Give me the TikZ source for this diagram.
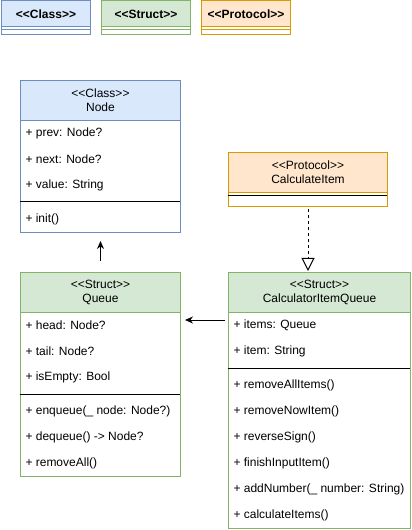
\documentclass[tikz,border=0pt]{standalone}
\usepackage{fontspec}
\setmainfont{Liberation Sans}
\usetikzlibrary{arrows.meta}
\definecolor{blueF}{HTML}{DAE8FC}
\definecolor{blueS}{HTML}{6C8EBF}
\definecolor{greenF}{HTML}{D5E8D4}
\definecolor{greenS}{HTML}{82B366}
\definecolor{orangeF}{HTML}{FFE6CC}
\definecolor{orangeS}{HTML}{D79B00}
\newcommand\Lq{<{}<}
\newcommand\Rq{>{}>}
\begin{document}
\begin{tikzpicture}[x=0.75pt,y=-0.75pt,line width=0.75pt,
  txt/.style={font=\fontsize{9pt}{10.5pt}\selectfont},
  box/.style={anchor=north west,inner sep=0pt,fill=white},
  hdr/.style={txt,anchor=north west,inner sep=0pt,align=center},
  leg/.style={anchor=north west,inner sep=0pt,align=center,font=\fontsize{9pt}{10.5pt}\selectfont\bfseries,minimum width=66.75pt,minimum height=19.5pt},
  row/.style={txt,anchor=west,inner sep=0pt},
  sep/.style={draw=black},
  arr/.style={-{Stealth[length=6pt,width=5.25pt]}},
  impl/.style={dash pattern=on 2.25pt off 2.25pt,-{Triangle[open,length=9.75pt,width=9.75pt,fill=white]}}]
\useasboundingbox (0,0) rectangle (411,530);

% legend
\node[box,draw=blueS,minimum width=66.75pt,minimum height=25.5pt] (lc) at (1,0.5) {};
\node[leg,draw=blueS,fill=blueF] (lch) at (1,0.5) {\Lq Class\Rq};
\draw[blueS] (1,30) -- (90,30);
\node[box,draw=greenS,minimum width=66.75pt,minimum height=25.5pt] (ls) at (101,0.5) {};
\node[leg,draw=greenS,fill=greenF] (lsh) at (101,0.5) {\Lq Struct\Rq};
\draw[greenS] (101,30) -- (190,30);
\node[box,draw=orangeS,minimum width=66.75pt,minimum height=25.5pt] (lp) at (201,0.5) {};
\node[leg,draw=orangeS,fill=orangeF] (lph) at (201,0.5) {\Lq Protocol\Rq};
\draw[orangeS] (201,30) -- (290,30);

% Node
\node[box,draw=blueS,minimum width=120pt,minimum height=114pt] (node) at (20,80) {};
\node[hdr,draw=blueS,fill=blueF,minimum width=120pt,minimum height=30pt] (nodeh) at (20,80) {\Lq Class\Rq\\Node};
\node[row] (n1) at (25,133) {+ prev: Node?};
\node[row] (n2) at (25,159) {+ next: Node?};
\node[row] (n3) at (25,185) {+ value: String};
\draw[sep] (20,202) -- (180,202);
\node[row] (n4) at (25,219) {+ init()};

% Queue
\node[box,draw=greenS,minimum width=120pt,minimum height=153pt] (queue) at (20,272) {};
\node[hdr,draw=greenS,fill=greenF,minimum width=120pt,minimum height=30pt] (queueh) at (20,272) {\Lq Struct\Rq\\Queue};
\node[row] (q1) at (25,325) {+ head: Node?};
\node[row] (q2) at (25,351) {+ tail: Node?};
\node[row] (q3) at (25,377) {+ isEmpty: Bool};
\draw[sep] (20,394) -- (180,394);
\node[row] (q4) at (25,411) {+ enqueue(\_ node: Node?)};
\node[row] (q5) at (25,437) {+ dequeue() -> Node?};
\node[row] (q6) at (25,463) {+ removeAll()};

% CalculateItem
\node[box,draw=orangeS,minimum width=119.25pt,minimum height=40.5pt] (proto) at (228,152) {};
\node[hdr,draw=orangeS,fill=orangeF,minimum width=119.25pt,minimum height=30pt] (protoh) at (228,152) {\Lq Protocol\Rq\\CalculateItem};
\draw[sep] (228,196) -- (387,196);

% CalculatorItemQueue
\node[box,draw=greenS,minimum width=136.5pt,minimum height=192pt] (calc) at (228,272) {};
\node[hdr,draw=greenS,fill=greenF,minimum width=136.5pt,minimum height=30pt] (calch) at (228,272) {\Lq Struct\Rq\\CalculatorItemQueue};
\node[row] (c1) at (233,325) {+ items: Queue};
\node[row] (c2) at (233,351) {+ item: String};
\draw[sep] (228,368) -- (410,368);
\node[row] (c3) at (233,385) {+ removeAllItems()};
\node[row] (c4) at (233,411) {+ removeNowItem()};
\node[row] (c5) at (233,437) {+ reverseSign()};
\node[row] (c6) at (233,463) {+ finishInputItem()};
\node[row] (c7) at (233,489) {+ addNumber(\_ number: String)};
\node[row] (c8) at (233,515) {+ calculateItems()};

% connectors
\draw[arr] ([yshift=8.25pt]queue.north) -- ([yshift=-6pt]node.south);
\coordinate (cq1) at (225,320);
\coordinate (cq2) at (185,320);
\draw[arr] (cq1) -- (cq2);
\draw[impl] ([yshift=-1.5pt]proto.south) -- ([yshift=0.75pt]proto.south |- calc.north);
\end{tikzpicture}
\end{document}
